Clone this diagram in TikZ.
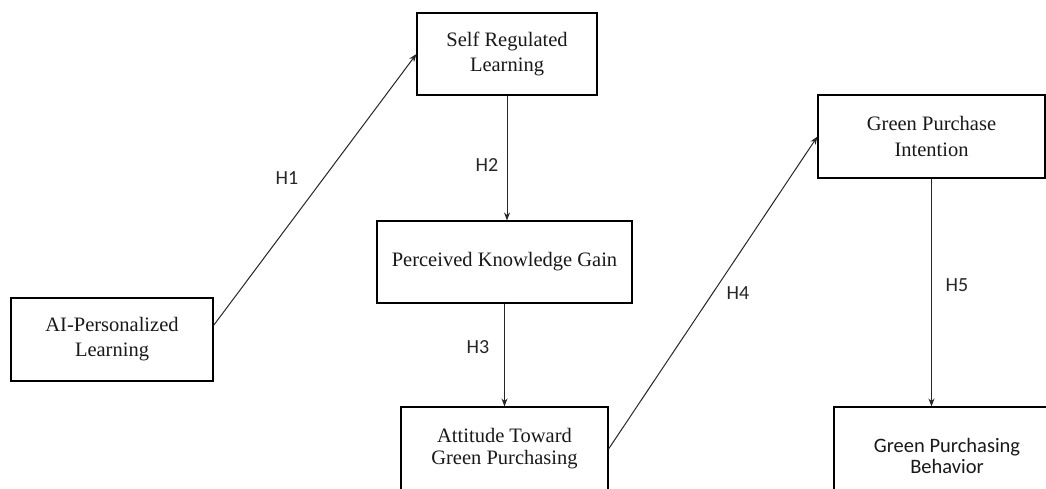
\documentclass[tikz,border=0pt]{standalone}
\usepackage{fontspec}
\setmainfont{Liberation Serif}
\newfontfamily\labfont{Carlito}
\usetikzlibrary{arrows.meta}
\begin{document}
\begin{tikzpicture}[x=1pt,y=-1pt,
  box/.style={draw=black,line width=1.1pt,fill=white,align=center,inner sep=0pt,
    font=\fontsize{20.5}{25}\selectfont,text=black!90},
  conn/.style={draw=black!85,line width=1pt,-{Stealth[length=8pt,width=6pt]}},
  hlab/.style={font=\labfont\fontsize{20}{24}\selectfont,text=black!85,inner sep=0pt}]
\clip (0,0) rectangle (1046,489);
\fill[white] (0,0) rectangle (1046,489);
\node[box,minimum width=202pt,minimum height=83pt] (ai) at (112,339.5) {AI-Personalized\\Learning};
\node[box,minimum width=180pt,minimum height=82pt] (srl) at (507,54) {Self Regulated\\Learning};
\node[box,minimum width=255pt,minimum height=82pt] (pkg) at (504.5,262) {Perceived Knowledge Gain};
\node[box,minimum width=207pt,minimum height=84pt,font=\fontsize{20.5}{22}\selectfont] (atg) at (504.5,449) {Attitude Toward\\Green Purchasing};
\node[box,minimum width=227pt,minimum height=83pt,font=\fontsize{20.5}{26}\selectfont] (gpi) at (931.5,136.5) {Green Purchase\\Intention};
\node[box,minimum width=226pt,minimum height=98pt,font=\labfont\fontsize{20.5}{21}\selectfont] (gpb) at (947,456) {Green Purchasing\\Behavior};
\draw[conn] ([yshift=14pt]ai.east) -- (srl.west);
\draw[conn] (srl.south) -- (srl.south |- pkg.north);
\draw[conn] (pkg.south) -- (atg.north);
\draw[conn] (atg.east) -- (gpi.west);
\draw[conn] (gpi.south) -- (gpi.south |- gpb.north);
\node[hlab] (h1) at (287,178) {H1};
\node[hlab] (h2) at (487,165) {H2};
\node[hlab] (h3) at (478,347) {H3};
\node[hlab] (h4) at (738,293) {H4};
\node[hlab] (h5) at (957,285) {H5};
\end{tikzpicture}
\end{document}
